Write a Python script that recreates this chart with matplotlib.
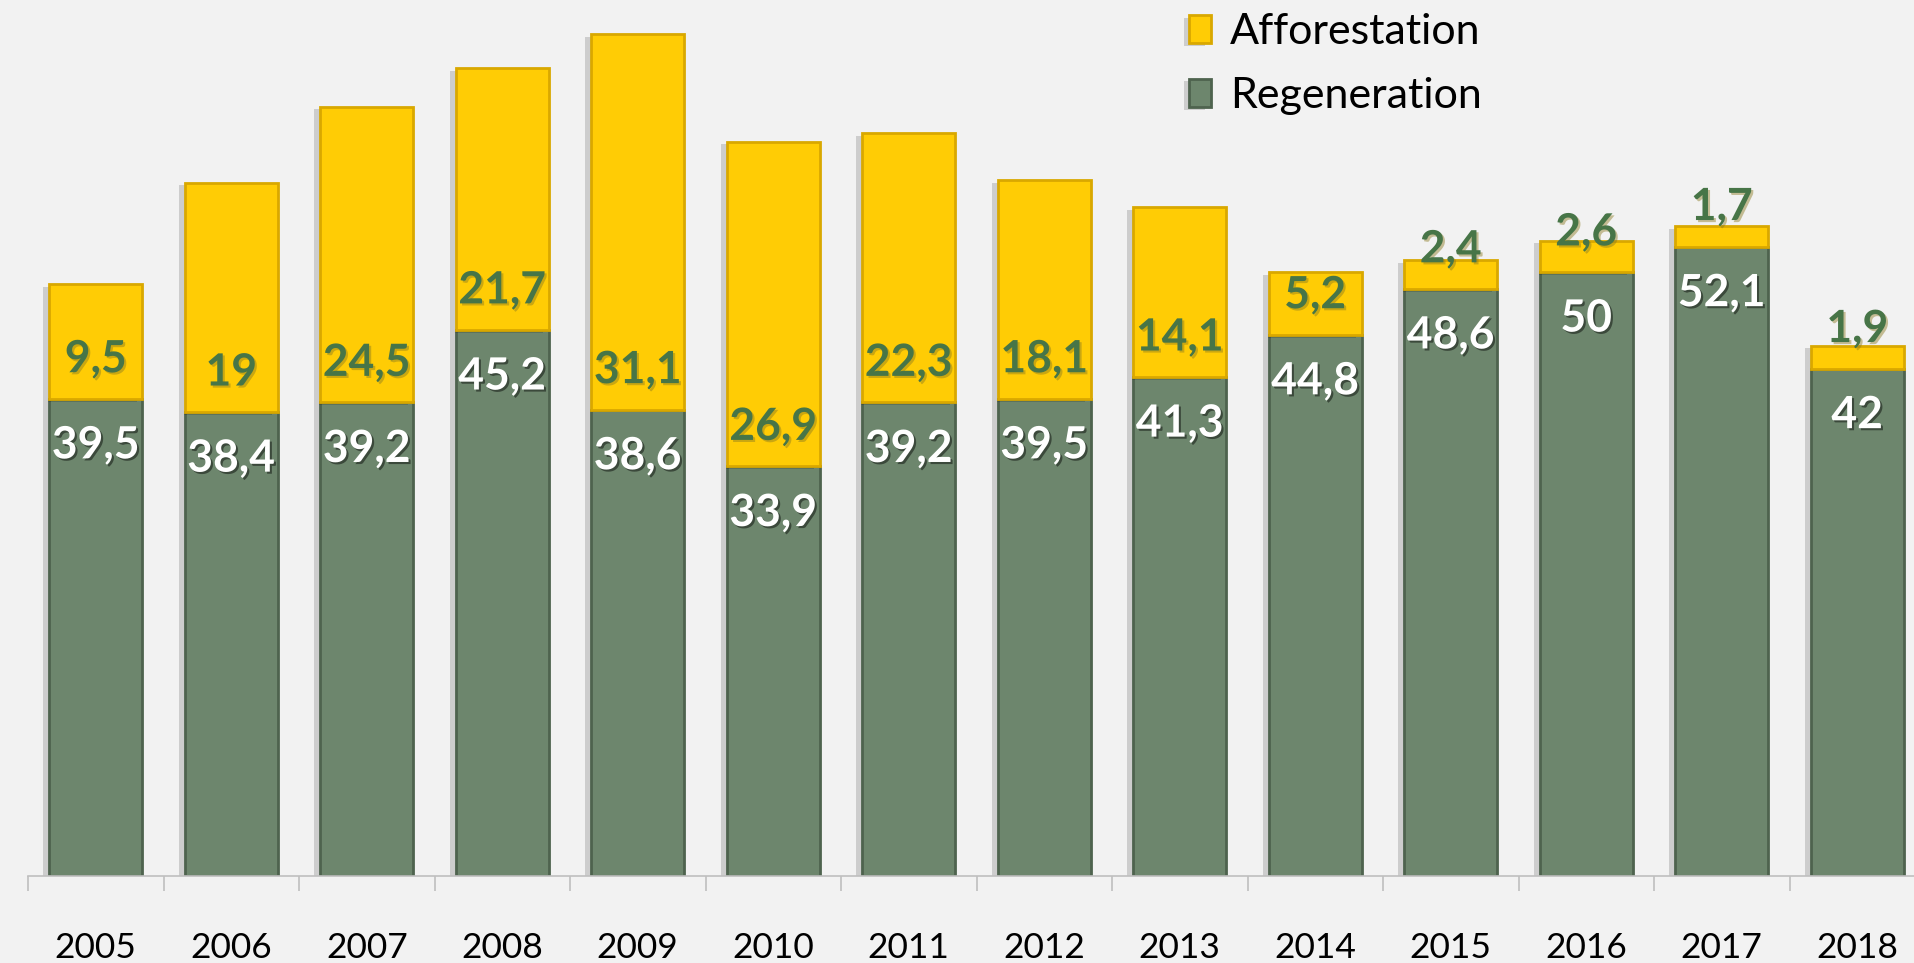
import matplotlib
matplotlib.use("Agg")
import matplotlib.pyplot as plt
import matplotlib.patheffects as pe
import numpy as np

years = ["2005", "2006", "2007", "2008", "2009", "2010", "2011",
         "2012", "2013", "2014", "2015", "2016", "2017", "2018"]
regeneration = [39.5, 38.4, 39.2, 45.2, 38.6, 33.9, 39.2, 39.5, 41.3, 44.8, 48.6, 50, 52.1, 42]
afforestation = [9.5, 19, 24.5, 21.7, 31.1, 26.9, 22.3, 18.1, 14.1, 5.2, 2.4, 2.6, 1.7, 1.9]

FONT = "Lato"
BG = "#F2F2F2"
YELLOW = "#FFCC05"
YELLOW_EDGE = "#D9A800"
GREEN = "#6D866D"
GREEN_EDGE = "#4E634E"
LABEL_GREEN = "#477547"

def fmt(v):
    if float(v).is_integer():
        return str(int(v))
    return ("%.1f" % v).replace(".", ",")

W, H = 1914, 963
fig = plt.figure(figsize=(W / 100, H / 100), dpi=100, facecolor=BG)
px_per_unit = 12.08
base_px = 876
ymax = 70
ax_h = ymax * px_per_unit / H
ax = fig.add_axes([28 / W, 1 - base_px / H, 1897 / W, ax_h])
ax.set_facecolor(BG)

x = np.arange(len(years))
bw = 0.69
shadow = [pe.withSimplePatchShadow(offset=(-4, -2), shadow_rgbFace="black", alpha=0.15)]

b1 = ax.bar(x, regeneration, width=bw, color=GREEN, edgecolor=GREEN_EDGE,
            linewidth=2, label="Regeneration", zorder=2)
b2 = ax.bar(x, afforestation, width=bw, bottom=regeneration, color=YELLOW,
            edgecolor=YELLOW_EDGE, linewidth=2, label="Afforestation", zorder=2)
for p in list(b1) + list(b2):
    p.set_path_effects(shadow)

for i in range(len(years)):
    r = regeneration[i]
    a = afforestation[i]
    t1 = ax.annotate(fmt(r), (x[i], r), xytext=(0, -33.5), textcoords="offset points",
                     ha="center", va="center", fontsize=32, fontweight="bold",
                     family=FONT, color="white", zorder=5)
    t1.set_path_effects([pe.withSimplePatchShadow(offset=(1.5, -1.5), shadow_rgbFace="black", alpha=0.45)])
    t2 = ax.annotate(fmt(a), (x[i], r), xytext=(0, 28.5), textcoords="offset points",
                     ha="center", va="center", fontsize=32, fontweight="bold",
                     family=FONT, color=LABEL_GREEN, zorder=5)
    t2.set_path_effects([pe.withSimplePatchShadow(offset=(1.5, -1.5), shadow_rgbFace="#8a7a20", alpha=0.45)])

ax.set_xlim(-0.5, len(years) - 0.5)
ax.set_ylim(0, ymax)
ax.set_yticks([])
for s in ["left", "right", "top"]:
    ax.spines[s].set_visible(False)
ax.spines["bottom"].set_color("#BFBFBF")
ax.spines["bottom"].set_linewidth(1.2)
ax.set_xticks(x)
ax.set_xticklabels(years, family=FONT, fontsize=25.5, color="black")
ax.tick_params(axis="x", which="major", length=0, pad=40)
ax.set_xticks(np.arange(-0.5, len(years), 1.0), minor=True)
ax.tick_params(axis="x", which="minor", length=11, color="#BFBFBF", width=1.2)

handles = [b2, b1]
leg = fig.legend(handles, ["Afforestation", "Regeneration"], loc="upper left",
                 bbox_to_anchor=(1172 / W, 1 + 4 / H), frameon=False,
                 prop={"family": FONT, "size": 31}, handlelength=0.5,
                 handleheight=0.65, handletextpad=0.45, labelspacing=0.6,
                 borderaxespad=0)
for t in leg.get_texts():
    t.set_color("black")

fig.savefig("out.png", dpi=100, facecolor=BG)
